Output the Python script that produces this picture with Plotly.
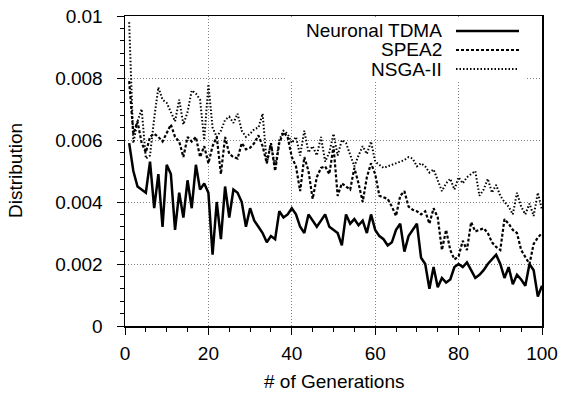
import plotly.graph_objects as go

# x values: generations
generations = list(range(1, 101))

# values in units of 1e-3
tdma = [5.9, 5.0, 4.5, 4.4, 4.3, 5.3, 3.8, 4.9, 3.2, 5.2,
        4.9, 3.1, 4.3, 3.5, 4.7, 3.8, 5.2, 4.4, 4.6, 4.3,
        2.3, 4.0, 2.8, 4.5, 3.5, 4.4, 4.3, 4.0, 3.2, 3.8,
        3.4, 3.2, 3.0, 2.7, 2.9, 2.8, 3.7, 3.5, 3.6, 3.8,
        3.6, 3.2, 3.0, 3.6, 3.4, 3.2, 3.4, 3.6, 3.2, 3.1,
        3.0, 2.6, 3.6, 3.3, 3.45, 3.25, 3.4, 3.0, 3.6, 3.1,
        2.9, 2.8, 2.6, 2.7, 3.1, 3.3, 2.4, 2.9, 3.1, 3.3,
        2.2, 2.0, 1.2, 1.9, 1.25, 1.55, 1.4, 1.5, 1.9, 2.0,
        1.9, 2.05, 1.8, 1.55, 1.65, 1.8, 2.0, 2.15, 2.3, 2.0,
        1.55, 1.9, 1.35, 1.65, 1.5, 1.3, 2.0, 1.8, 0.95, 1.3]

spea2 = [7.9, 6.2, 6.6, 5.9, 5.6, 6.1, 6.2, 6.1, 5.95, 6.2,
         6.5, 6.1, 5.95, 5.45, 6.1, 5.95, 6.1, 5.45, 5.8, 5.25,
         5.8, 6.1, 4.9, 6.1, 5.55, 5.45, 5.4, 5.9, 5.7, 5.75,
         5.9, 6.15, 5.8, 5.25, 5.9, 5.0, 5.9, 6.25, 6.1, 5.45,
         5.15, 4.35, 5.45, 5.0, 4.1, 4.8, 5.1, 5.15, 4.9, 5.8,
         4.2, 4.6, 4.5, 4.4, 5.1, 4.6, 4.0, 4.8, 5.25, 4.9,
         4.2, 4.15, 4.1, 3.85, 3.55, 4.2, 4.35, 3.85, 3.75, 3.7,
         3.6, 3.7, 3.3, 3.8, 3.5, 2.45, 3.1, 2.45, 2.15, 2.25,
         2.75, 2.45, 3.35, 3.05, 3.1, 3.15, 3.0, 2.7, 2.55, 2.45,
         3.45, 3.3, 3.1, 3.0, 2.45, 2.2, 2.0, 2.65, 2.85, 3.0]

nsga2 = [9.8, 5.9, 6.6, 7.0, 5.4, 5.5, 6.7, 7.7, 7.3, 7.2,
         6.9, 6.6, 7.3, 6.5, 6.9, 7.6, 7.5, 7.3, 6.0, 7.8,
         6.4, 6.1, 6.3, 6.65, 6.75, 6.55, 6.85, 6.3, 6.1, 6.2,
         6.35, 6.4, 6.85, 5.25, 5.9, 5.1, 6.0, 6.3, 6.2, 5.9,
         6.1, 5.5, 6.3, 5.6, 5.8, 5.5, 6.1, 5.3, 5.6, 6.2,
         5.5, 6.0, 5.9, 5.5, 5.15, 5.5, 5.8, 5.55, 5.95, 5.3,
         5.2, 5.1, 5.15, 5.2, 5.25, 5.3, 5.35, 5.45, 5.4, 5.15,
         5.25, 5.15, 4.95, 5.05, 4.7, 4.35, 4.6, 4.75, 4.4, 4.8,
         4.6, 4.8, 4.9, 5.0, 4.2, 4.4, 4.75, 4.3, 4.55, 4.2,
         4.0, 3.85, 3.6, 4.3, 3.85, 3.6, 3.95, 3.55, 4.3, 3.75]

series_names = ["Neuronal TDMA", "SPEA2", "NSGA-II"]
x_tick_vals = [0, 20, 40, 60, 80, 100]
y_tick_vals = [0, 0.002, 0.004, 0.006, 0.008, 0.01]
y_tick_text = ["0", "0.002", "0.004", "0.006", "0.008", "0.01"]
x_title = "# of Generations"
y_title = "Distribution"

SCALE = 1e-3
FONT = "Liberation Sans, Arial, Helvetica, sans-serif"
FS = 19

styles = [
    dict(color="black", width=2.5, dash="solid"),
    dict(color="black", width=2.2, dash="3px,2px"),
    dict(color="black", width=2.0, dash="1.5px,2px"),
]

fig = go.Figure()
for name, vals, st in zip(series_names, [tdma, spea2, nsga2], styles):
    fig.add_trace(go.Scatter(
        x=generations, y=[v * SCALE for v in vals], mode="lines", name=name,
        line=st, showlegend=False, hoverinfo="skip",
    ))

# page body margin is removed by post_script below, so figure == page
W, H = 563, 394
L, T = 125, 16
R, B = 563 - 542, 394 - 326
pw, ph = W - L - R, H - T - B

def px_x(p):  # page pixel -> paper
    return (p - L) / pw

def px_y(p):
    return (T + ph - p) / ph

shapes = [dict(type="rect", xref="paper", yref="paper",
               x0=px_x(285), x1=px_x(526), y0=px_y(80), y1=px_y(19),
               fillcolor="white", line=dict(width=0), layer="above")]
annotations = []
rows = [31, 50, 69]
for name, st, ry in zip(series_names, styles, rows):
    shapes.append(dict(type="line", xref="paper", yref="paper",
                       x0=px_x(456), x1=px_x(519), y0=px_y(ry), y1=px_y(ry),
                       line=dict(color="black", width=st["width"], dash=st["dash"]),
                       layer="above"))
    annotations.append(dict(text=name, xref="paper", yref="paper",
                            x=px_x(444), y=px_y(ry), xanchor="right", yanchor="middle",
                            showarrow=False, font=dict(size=FS, color="black", family=FONT)))

annotations.append(dict(text=x_title, xref="paper", yref="paper",
                        x=px_x(334), y=px_y(381), xanchor="center", yanchor="middle",
                        showarrow=False, font=dict(size=FS, color="black", family=FONT)))
annotations.append(dict(text=y_title, xref="paper", yref="paper", textangle=-90,
                        x=px_x(15), y=px_y(170), xanchor="center", yanchor="middle",
                        showarrow=False, font=dict(size=FS, color="black", family=FONT)))

axis_common = dict(
    showline=True, linecolor="black", linewidth=1.5, mirror=True,
    ticks="outside", ticklen=7, tickcolor="black", tickwidth=1,
    showgrid=True, gridcolor="#808080", griddash="1px,2px", gridwidth=1,
    zeroline=False, automargin=False, ticklabeloverflow="allow",
    tickfont=dict(size=FS, color="black", family=FONT),
)

fig.update_layout(
    width=W, height=H,
    margin=dict(l=L, r=R, t=T, b=B),
    plot_bgcolor="white", paper_bgcolor="white",
    font=dict(family=FONT, size=FS, color="black"),
    shapes=shapes, annotations=annotations,
    hovermode=False,
    xaxis=dict(range=[0, 100], tickvals=x_tick_vals, ticklabelstandoff=3,
               minor=dict(ticks="outside", ticklen=4, dtick=5, tick0=0, tickcolor="black", showgrid=False),
               **axis_common),
    yaxis=dict(range=[0, 0.01], tickvals=y_tick_vals, ticktext=y_tick_text, ticklabelstandoff=10,
               minor=dict(ticks="outside", ticklen=4, dtick=0.0004, tick0=0, tickcolor="black", showgrid=False),
               **axis_common),
)

fig.write_html("out.html",
               config={"displayModeBar": False, "staticPlot": True},
               post_script="document.body.style.margin='0';document.body.style.overflow='hidden';")
